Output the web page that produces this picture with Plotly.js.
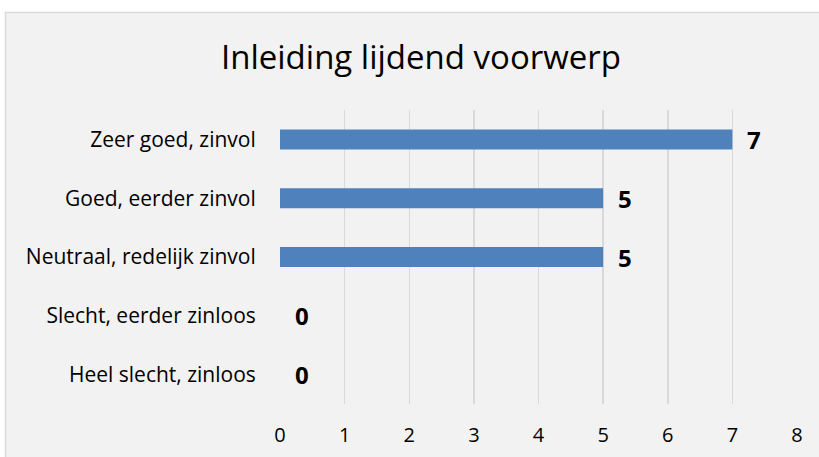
<!DOCTYPE html>
<html>
<head>
<meta charset="utf-8">
<script src="https://cdn.plot.ly/plotly-3.0.1.min.js"></script>
<style>html,body{margin:0;padding:0;background:#fff;}#chart{width:819px;height:457px;}</style>
</head>
<body>
<div id="chart"></div>
<script>
const categories = ["Zeer goed, zinvol", "Goed, eerder zinvol", "Neutraal, redelijk zinvol", "Slecht, eerder zinloos", "Heel slecht, zinloos"];
const values = [7, 5, 5, 0, 0];
const xTicks = [0, 1, 2, 3, 4, 5, 6, 7, 8];
const titleText = "Inleiding lijdend voorwerp";

const FONT = "'Open Sans', 'Noto Sans', sans-serif";
const L = 280, R = 22, T = 110, B = 53;
const W = 819, H = 457;
const pw = W - L - R, ph = H - T - B;
const px = p => (p - L) / pw;
const py = p => (H - B - p) / ph;

const trace = {
  type: 'bar', orientation: 'h',
  x: values, y: categories,
  marker: {color: '#4F81BD'},
  width: 0.34,
  hoverinfo: 'none'
};

const annotations = categories.map((c, i) => ({
  x: values[i], y: c, xref: 'x', yref: 'y',
  text: '<b>' + values[i] + '</b>', showarrow: false,
  xanchor: 'left', xshift: 13,
  font: {family: FONT, size: 24, color: '#000'}
}));

const layout = {
  width: W, height: H,
  margin: {l: L, r: R, t: T, b: B, pad: 0},
  paper_bgcolor: '#ffffff',
  plot_bgcolor: 'rgba(0,0,0,0)',
  showlegend: false,
  title: {text: titleText, xref: 'container', yref: 'container', x: 421 / W, xanchor: 'center', y: 1 - 57 / H, yanchor: 'middle',
          font: {family: FONT, size: 33, color: '#000'}},
  font: {family: FONT, color: '#000'},
  xaxis: {range: [0, 8], tickvals: xTicks, showgrid: true, gridcolor: '#d9d9d9', gridwidth: 1.5,
          zeroline: false, showline: false, ticks: 'outside', ticklen: 13, tickcolor: 'rgba(0,0,0,0)',
          tickfont: {family: FONT, size: 20, color: '#000'}, fixedrange: true},
  yaxis: {autorange: 'reversed', showgrid: false, zeroline: false, showline: false,
          ticks: 'outside', ticklen: 19, tickcolor: 'rgba(0,0,0,0)',
          tickfont: {family: FONT, size: 21, color: '#000'}, fixedrange: true},
  shapes: [{type: 'rect', xref: 'paper', yref: 'paper', x0: px(5.5), x1: px(830), y0: py(470), y1: py(12.5),
            fillcolor: '#f2f2f2', line: {color: '#d9d9d9', width: 1.5}, layer: 'below'}],
  annotations: annotations
};

Plotly.newPlot('chart', [trace], layout, {displayModeBar: false, staticPlot: true});
</script>
</body>
</html>
